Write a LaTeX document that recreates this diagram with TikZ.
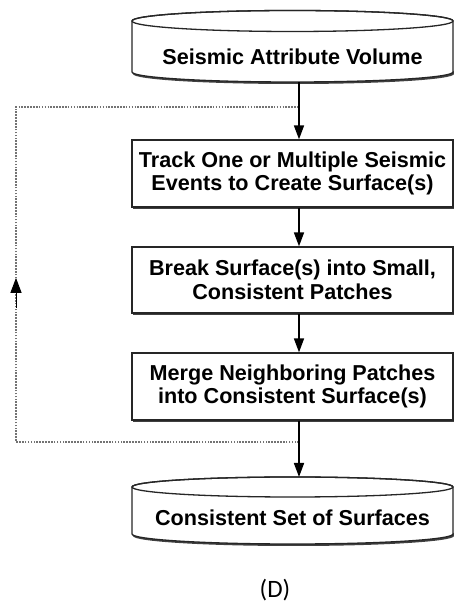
\documentclass[tikz,border=0pt]{standalone}
\usepackage{fontspec}
\setmainfont{Liberation Sans}
\newfontfamily\capfont{Carlito}
\usetikzlibrary{arrows.meta,shadows,calc}
\tikzset{
  procbox/.style={draw=black!85, line width=1.3pt, fill=white, minimum width=321pt,
    inner sep=0pt, align=center, font=\fontsize{21.6}{23.5}\selectfont\bfseries,
    drop shadow={shadow xshift=0.8pt, shadow yshift=-2pt, fill=black!75, opacity=1}},
  cyltext/.style={inner sep=0pt, align=center, font=\fontsize{21.6}{23.5}\selectfont\bfseries},
  cylline/.style={draw=black!85, line width=1.3pt, fill=white},
  flow/.style={draw=black, line width=1.7pt, -{Triangle[length=14pt,width=10pt]}},
  loopline/.style={draw=black!55, line width=2pt, dash pattern=on 1.6pt off 1.3pt},
  looptip/.style={draw=black, line width=1pt, -{Triangle[length=15pt,width=11pt]}}
}
\begin{document}
\begin{tikzpicture}
\useasboundingbox (0,0) rectangle (454pt,607pt);
\begin{scope}[x=1pt,y=1pt]
% top cylinder
\fill[black!75] (133,536) -- (133,533) arc[start angle=180,end angle=360,x radius=160.5,y radius=10] -- (454,536) -- cycle;
\path[cylline] (132,586) -- (132,535) arc[start angle=180,end angle=360,x radius=160.5,y radius=10] -- (453,586)
  arc[start angle=0,end angle=180,x radius=160.5,y radius=10.5] -- cycle;
\draw[draw=black!85, line width=1.3pt] (292.5,586) ellipse[x radius=160.5, y radius=10.5];
\node[cyltext] (src) at (292.5,550) {Seismic Attribute Volume};
\coordinate (srcbot) at (299,525);

% process boxes
\node[procbox, minimum height=67pt] (b1) at (292.5,433.5) {Track One or Multiple Seismic\\Events to Create Surface(s)};
\node[procbox, minimum height=66pt] (b2) at (292.5,327) {Break Surface(s) into Small,\\Consistent Patches};
\node[procbox, minimum height=67pt] (b3) at (292.5,220.5) {Merge Neighboring Patches\\into Consistent Surface(s)};

% bottom cylinder
\fill[black!75] (133,74) -- (133,71) arc[start angle=180,end angle=360,x radius=160.5,y radius=10] -- (454,74) -- cycle;
\path[cylline] (132,120) -- (132,73) arc[start angle=180,end angle=360,x radius=160.5,y radius=10] -- (453,120)
  arc[start angle=0,end angle=180,x radius=160.5,y radius=10] -- cycle;
\draw[draw=black!85, line width=1.3pt] (292.5,120) ellipse[x radius=160.5, y radius=10];
\node[cyltext] (dst) at (292.5,89) {Consistent Set of Surfaces};
\coordinate (dsttop) at (299,130);

\coordinate (ax) at (299,0);
\coordinate (j1) at (299,165);
\coordinate (j2) at (299,500);
\coordinate (c1) at (16,165);
\coordinate (c2) at (16,500);

% feedback loop
\draw[loopline] (j1) -- (c1) -- (c2) -- (j2);
\draw[looptip] ($(c1)!0.40!(c2)$) -- ($(c1)!0.49!(c2)$);

% main flow
\draw[flow] (srcbot) -- (b1.north -| ax);
\draw[flow] (b1.south -| ax) -- (b2.north -| ax);
\draw[flow] (b2.south -| ax) -- (b3.north -| ax);
\draw[flow] (b3.south -| ax) -- (dsttop);

\node[font=\capfont\fontsize{25}{27}\selectfont, inner sep=0pt] (cap) at (275,17) {(D)};
\end{scope}
\end{tikzpicture}
\end{document}
